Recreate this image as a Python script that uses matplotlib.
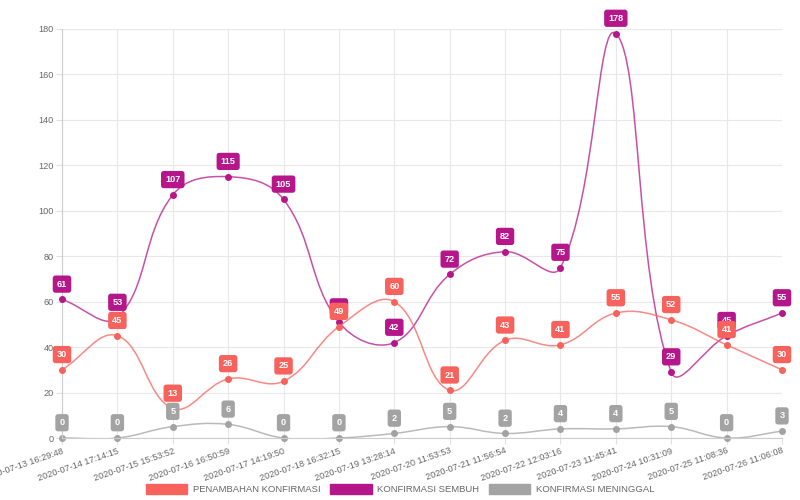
import numpy as np
import matplotlib.pyplot as plt
from matplotlib.path import Path
from matplotlib.patches import PathPatch, Patch

plt.rcParams['font.family'] = ['Liberation Sans', 'DejaVu Sans']

dates = ["2020-07-13 16:29:48", "2020-07-14 17:14:15", "2020-07-15 15:53:52",
         "2020-07-16 16:50:59", "2020-07-17 14:19:50", "2020-07-18 16:32:15",
         "2020-07-19 13:28:14", "2020-07-20 11:53:53", "2020-07-21 11:56:54",
         "2020-07-22 12:03:16", "2020-07-23 11:45:41", "2020-07-24 10:31:09",
         "2020-07-25 11:08:36", "2020-07-26 11:06:08"]
penambahan = [30, 45, 13, 26, 25, 49, 60, 21, 43, 41, 55, 52, 41, 30]
sembuh = [61, 53, 107, 115, 105, 51, 42, 72, 82, 75, 178, 29, 45, 55]
meninggal = [0, 0, 5, 6, 0, 0, 2, 5, 2, 4, 4, 5, 0, 3]

series = [
    ("KONFIRMASI MENINGGAL", meninggal, "#a3a3a3", 2),
    ("KONFIRMASI SEMBUH", sembuh, "#b5168a", 3),
    ("PENAMBAHAN KONFIRMASI", penambahan, "#f7625c", 4),
]

fig = plt.figure(figsize=(8, 5), dpi=100)
ax = fig.add_axes([0.0775, 0.124, 0.9, 0.818])
ax.set_xlim(0, len(dates) - 1)
ax.set_ylim(0, 180)

# pixel scale for spline (Chart.js style, tension 0.4)
sx = 720 / (len(dates) - 1)
sy = 409 / 180


def spline_path(xs, ys, t=0.4):
    n = len(xs)
    P = np.column_stack([np.array(xs, float) * sx, np.array(ys, float) * sy])
    cp_prev, cp_next = [], []
    for i in range(n):
        prev = P[max(i - 1, 0)]
        cur = P[i]
        nxt = P[min(i + 1, n - 1)]
        d01 = np.hypot(*(cur - prev))
        d12 = np.hypot(*(nxt - cur))
        tot = d01 + d12
        s01 = d01 / tot if tot else 0
        s12 = d12 / tot if tot else 0
        cp_prev.append(cur - t * s01 * (nxt - prev))
        cp_next.append(cur + t * s12 * (nxt - prev))
    verts = [P[0]]
    codes = [Path.MOVETO]
    for i in range(n - 1):
        verts += [cp_next[i], cp_prev[i + 1], P[i + 1]]
        codes += [Path.CURVE4] * 3
    verts = np.array(verts)
    verts[:, 0] /= sx
    verts[:, 1] /= sy
    return Path(verts, codes)


x = np.arange(len(dates))
for name, vals, col, z in series:
    ax.add_patch(PathPatch(spline_path(x, vals), facecolor='none', edgecolor=col,
                           lw=1.1, alpha=0.75, zorder=z))
    ax.scatter(x, vals, s=16, color=col, zorder=z + 0.1, clip_on=False)
    for xi, v in zip(x, vals):
        ax.annotate(str(v), (xi, v), xytext=(0, 11), textcoords='offset points',
                    ha='center', va='center', fontsize=6.6, fontweight='bold',
                    color='white', zorder=z + 5, annotation_clip=False,
                    bbox=dict(boxstyle='round,pad=0.45,rounding_size=0.3',
                              fc=col, ec='none'))

ax.set_yticks(range(0, 181, 20))
ax.set_xticks(x)
ax.set_xticklabels(dates, rotation=19, ha='right', rotation_mode='anchor')
ax.tick_params(axis='both', labelsize=6.6, length=4, pad=2)
ax.tick_params(axis='x', colors='#e0e0e0', labelcolor='#666666')
ax.tick_params(axis='y', colors='#e0e0e0', labelcolor='#666666')
ax.grid(True, color='#e8e8e8', lw=0.8)
ax.set_axisbelow(True)
for s in ['top', 'right']:
    ax.spines[s].set_visible(False)
for s in ['left', 'bottom']:
    ax.spines[s].set_color('#cccccc')

handles = [Patch(color=c, label=n) for n, _, c, _ in reversed(series)]
fig.legend(handles=handles, loc='lower center', bbox_to_anchor=(0.5, -0.005),
           ncol=3, frameon=False, fontsize=6.8, handlelength=4.4,
           handleheight=1.3, columnspacing=1.0, handletextpad=0.6,
           labelcolor='#666666')

fig.savefig('out.png', dpi=100)
